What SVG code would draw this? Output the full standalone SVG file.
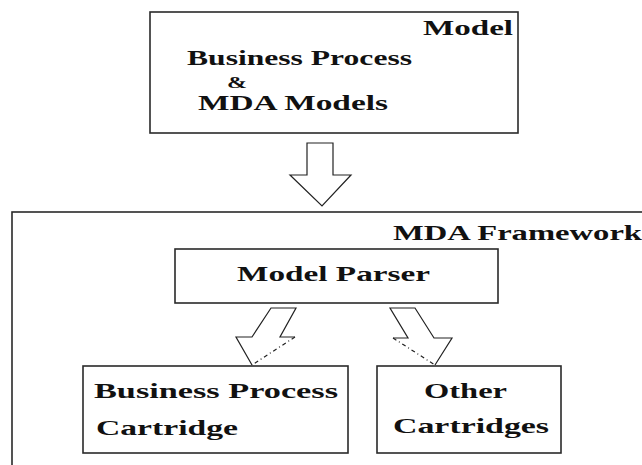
<svg xmlns="http://www.w3.org/2000/svg" width="642" height="465" viewBox="0 0 642 465">
<style>
.box{fill:#fff;stroke:#2a2a2a;stroke-width:1.6}
.t{font-family:"Liberation Serif","Times New Roman",serif;font-weight:bold;font-size:22px;fill:#111}
.s{font-size:20.5px}
.arr{fill:none;stroke:#222;stroke-width:1.2;stroke-linejoin:miter}
.dd{fill:none;stroke:#222;stroke-width:1.2;stroke-dasharray:4 3 1 3}
</style>
<rect width="642" height="465" fill="#fff"/>
<g id="model">
<rect class="box" x="150" y="12" width="368" height="121"/>
<text class="t" x="423" y="35" textLength="90" lengthAdjust="spacingAndGlyphs" style="font-size:20px">Model</text>
<text class="t s" x="187" y="65" textLength="225" lengthAdjust="spacingAndGlyphs">Business Process</text>
<text class="t" x="227" y="87.5" textLength="20" lengthAdjust="spacingAndGlyphs" style="font-size:16.5px">&amp;</text>
<text class="t s" x="198" y="110" textLength="190" lengthAdjust="spacingAndGlyphs">MDA Models</text>
</g>
<g id="framework">
<rect class="box" x="12" y="212" width="700" height="300"/>
<text class="t" x="393" y="240" textLength="249" lengthAdjust="spacingAndGlyphs" style="font-size:21px">MDA Framework</text>
</g>
<g id="parser">
<rect class="box" x="175" y="249" width="323" height="54"/>
<text class="t" x="237" y="281" textLength="193" lengthAdjust="spacingAndGlyphs">Model Parser</text>
</g>
<g id="bp-cartridge">
<rect class="box" x="83" y="366" width="265" height="87"/>
<text class="t" x="94" y="398" textLength="244" lengthAdjust="spacingAndGlyphs">Business Process</text>
<text class="t" x="96" y="435" textLength="142" lengthAdjust="spacingAndGlyphs">Cartridge</text>
</g>
<g id="other-cartridges">
<rect class="box" x="377" y="366" width="184" height="87"/>
<text class="t" x="424" y="398" textLength="83" lengthAdjust="spacingAndGlyphs">Other</text>
<text class="t" x="393" y="433" textLength="156" lengthAdjust="spacingAndGlyphs">Cartridges</text>
</g>
<g id="connectors">
<polygon class="arr" points="307,143 333,143 333,175 351,175 322,206 290,175 307,175"/>
<polyline class="arr" points="295,337 280,337 296,308 271,308 252,337 236,337 252,365"/>
<line class="dd" x1="295" y1="337" x2="252" y2="365"/>
<polyline class="arr" points="393,338 408,338 390,308 415,308 434,338 452,338 435,365"/>
<line class="dd" x1="393" y1="338" x2="435" y2="365"/>
</g>
</svg>
